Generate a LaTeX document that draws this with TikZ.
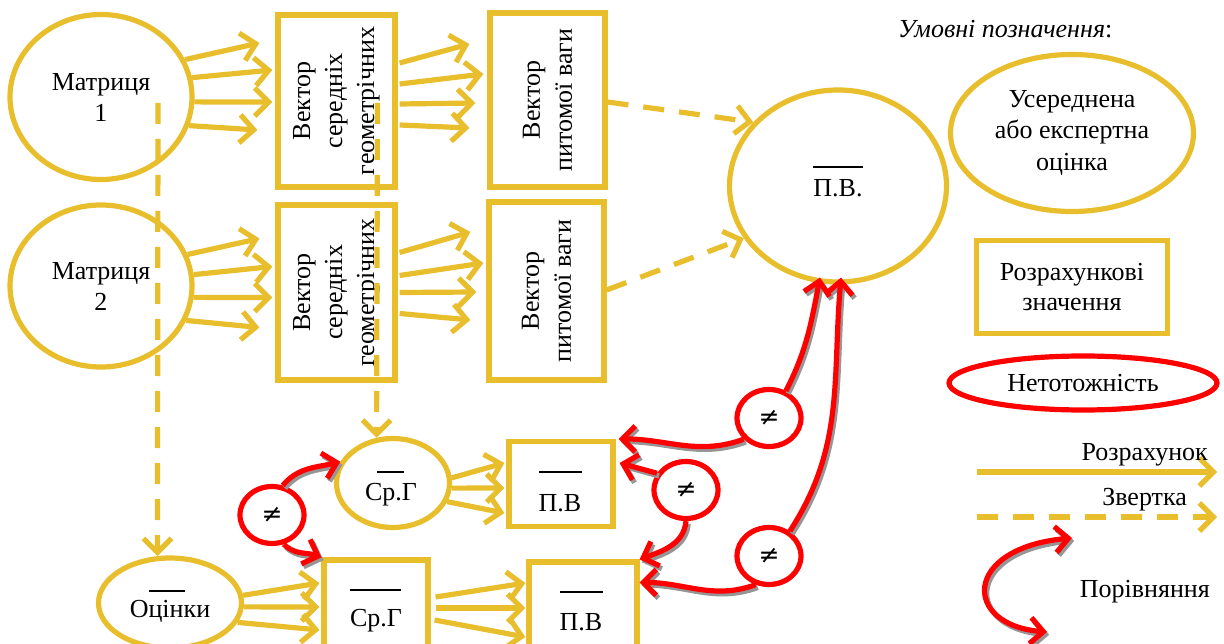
\documentclass[tikz,border=0pt]{standalone}
\usepackage{fontspec}
\setmainfont{Liberation Serif}
\newfontfamily\symfnt{DejaVu Sans}
\usetikzlibrary{shapes.geometric,arrows.meta,calc}
\definecolor{gold}{RGB}{232,190,44}
\definecolor{shadowgray}{RGB}{150,150,150}
\newcommand\mainsz{\fontsize{26}{31}\selectfont}
\begin{document}
\begin{tikzpicture}[x=1pt,y=-1pt,
  goldell/.style={ellipse, draw=gold, line width=5.2pt, inner sep=0pt, align=center, font=\mainsz},
  goldbox/.style={rectangle, draw=gold, line width=5.2pt, inner sep=0pt, align=center, font=\mainsz},
  rottext/.style={rotate=90, inner sep=0pt, align=center, font=\fontsize{26}{32}\selectfont},
  neq/.style={ellipse, draw=red, fill=white, line width=5.2pt, inner sep=0pt, minimum width=64pt, minimum height=57pt, font=\symfnt\fontsize{25}{25}\selectfont},
  lbl/.style={font=\mainsz, inner sep=0pt, anchor=base},
  calcarrow/.style={draw=gold, line width=5.2pt, -{Straight Barb[length=14pt,width=28pt]}},
  convarrow/.style={calcarrow, dash pattern=on 21pt off 15pt},
  cmptip/.style={-{Straight Barb[length=13pt,width=26pt]}},
  cmparrow/.style={draw=red, line width=5.2pt, cmptip},
  cmpshadow/.style={draw=shadowgray, line width=5.2pt, cmptip, transform canvas={shift={(2.2pt,-2.8pt)}}},
  bar/.style={line width=1.6pt, draw=black}]
\useasboundingbox (0,0) rectangle (1224,644);

% ---- top rows
\node[goldell, minimum width=182pt, minimum height=165pt] (m1) at (101,97) {Матриця\\1};
\node[goldell, minimum width=182pt, minimum height=162pt] (m2) at (101,286) {Матриця\\2};
\node[goldbox, minimum width=117pt, minimum height=172pt] (v1) at (336.5,101) {};
\node[rottext] (v1t) at (v1.center) {Вектор\\середніх\\геометрічних};
\node[goldbox, minimum width=117pt, minimum height=175pt] (v2) at (336.5,292.5) {};
\node[rottext] (v2t) at (v2.center) {Вектор\\середніх\\геометрічних};
\node[goldbox, minimum width=115pt, minimum height=174pt] (p1) at (547.5,100) {};
\node[rottext] (p1t) at (p1.center) {Вектор\\питомої ваги};
\node[goldbox, minimum width=115pt, minimum height=178pt] (p2) at (546.5,291) {};
\node[rottext] (p2t) at (p2.center) {Вектор\\питомої ваги};

\node[goldell, minimum width=217pt, minimum height=192pt] (PV) at (838,186) {};
\node[lbl] (PVt) at (838,197) {П.В.};
\draw[bar] (813,167) -- (863,167);

% ---- bottom part
\node[goldell, minimum width=113pt, minimum height=89pt] (sg1) at (393,483) {};
\node[lbl] (sg1t) at (391,500) {Ср.Г};
\draw[bar] (377,472) -- (404,472);
\node[goldbox, minimum width=104pt, minimum height=85pt] (pv1) at (561,484) {};
\node[lbl] (pv1t) at (560,511) {П.В};
\draw[bar] (539,472) -- (582,472);
\node[goldell, minimum width=143pt, minimum height=90pt] (oc) at (170,603) {};
\node[lbl] (oct) at (170,617) {Оцінки};
\draw[bar] (149,591) -- (185,591);
\node[goldbox, minimum width=104pt, minimum height=88pt] (sg2) at (376,604) {};
\node[lbl] (sg2t) at (376,626) {Ср.Г};
\draw[bar] (350,590) -- (401,590);
\node[goldbox, minimum width=108pt, minimum height=86pt] (pv2) at (583,605) {};
\node[lbl] (pv2t) at (581,630) {П.В};
\draw[bar] (560,592) -- (603,592);

% ---- calculation arrows, row 1
\draw[calcarrow] (m1.24) -- ([shift={(-16,-58)}]v1.west);
\draw[calcarrow] (m1.12) -- ([shift={(-3,-31)}]v1.west);
\draw[calcarrow] (m1.-3) -- ([shift={(-3,1)}]v1.west);
\draw[calcarrow] (m1.-18) -- ([shift={(-18,29)}]v1.west);
\draw[calcarrow] ([shift={(2,-38)}]v1.east) -- ([shift={(-18,-56)}]p1.west);
\draw[calcarrow] ([shift={(2,-17)}]v1.east) -- ([shift={(-4,-26)}]p1.west);
\draw[calcarrow] ([shift={(2,3)}]v1.east) -- ([shift={(-12,3)}]p1.west);
\draw[calcarrow] ([shift={(2,24)}]v1.east) -- ([shift={(-18,28)}]p1.west);
% row 2
\draw[calcarrow] (m2.20) -- ([shift={(-16,-54)}]v2.west);
\draw[calcarrow] (m2.7) -- ([shift={(-3,-26)}]v2.west);
\draw[calcarrow] (m2.-7) -- ([shift={(-3,5)}]v2.west);
\draw[calcarrow] (m2.-22) -- ([shift={(-16,35)}]v2.west);
\draw[calcarrow] ([shift={(2,-40)}]v2.east) -- ([shift={(-16,-59)}]p2.west);
\draw[calcarrow] ([shift={(2,-17)}]v2.east) -- ([shift={(-3,-28)}]p2.west);
\draw[calcarrow] ([shift={(2,0)}]v2.east) -- ([shift={(-10,1)}]p2.west);
\draw[calcarrow] ([shift={(2,21)}]v2.east) -- ([shift={(-16,29)}]p2.west);
% bottom
\draw[calcarrow] (sg1.5) -- ([shift={(-2,-21)}]pv1.west);
\draw[calcarrow] (sg1.-5) -- ([shift={(-2,4)}]pv1.west);
\draw[calcarrow] (sg1.-19) -- ([shift={(-2,29)}]pv1.west);
\draw[calcarrow] (oc.6) -- ([shift={(-2,-21)}]sg2.west);
\draw[calcarrow] (oc.-3) -- ([shift={(-2,3)}]sg2.west);
\draw[calcarrow] (oc.-16) -- ([shift={(-2,26)}]sg2.west);
\draw[calcarrow] ([shift={(5,-7)}]sg2.east) -- ([shift={(-1,-22)}]pv2.west);
\draw[calcarrow] ([shift={(5,4)}]sg2.east) -- ([shift={(-1,3)}]pv2.west);
\draw[calcarrow] ([shift={(4,16)}]sg2.east) -- ([shift={(-1,32)}]pv2.west);

% ---- convolution (dashed) arrows
\draw[convarrow] ([shift={(57,6)}]m1.center) -- (oc.105);
\draw[convarrow] ([shift={(41,2)}]v1.center) -- (sg1.110);
\draw[convarrow] ([shift={(0,2)}]p1.east) -- (PV.143);
\draw[convarrow] ([shift={(0,-1)}]p2.east) -- (PV.209);

% ---- comparison nodes
\node[neq] (n1) at (272,515) {≠};
\node[neq] (n2) at (769,418) {≠};
\node[neq] (n3) at (686,490) {≠};
\node[neq] (n4) at (769,556) {≠};

\foreach \st in {cmpshadow,cmparrow}{
\draw[\st] (n2.58) to[out=63,in=-101] ([shift={(-18,-7)}]PV.south);
\draw[\st] (n4.50) to[out=57,in=-95] ([shift={(3,-7)}]PV.south);
\draw[\st] (n2.220) to[out=200,in=0] ([xshift=3pt]pv1.north east);
\draw[\st] (n3.150) to[out=165,in=-15] ([shift={(4,-21)}]pv1.east);
\draw[\st] (n3.south) to[out=-95,in=20] (pv2.north east);
\draw[\st] (n4.245) to[out=200,in=0] ([shift={(0,23)}]pv2.north east);
\draw[\st] (n1.70) to[out=50,in=194] (sg1.158);
\draw[\st] (n1.-68) to[out=-45,in=160] (sg2.north west);
}

% ---- legend
\node[font=\fontsize{26}{30}\selectfont\itshape, inner sep=0pt, anchor=base west] (title) at (898,38) {Умовні позначення\textup{:}};
\node[goldell, minimum width=243pt, minimum height=157pt, font=\fontsize{26}{31.5}\selectfont] (L1) at (1072,133) {Усереднена\\або експертна\\оцінка};
\node[goldbox, minimum width=191pt, minimum height=93pt, font=\fontsize{26}{30}\selectfont] (L2) at (1072,287) {Розрахункові\\значення};
\node[ellipse, draw=red, line width=5.2pt, inner sep=0pt, minimum width=268pt, minimum height=54pt, font=\mainsz] (L3) at (1083,383) {Нетотожність};

\coordinate (ra) at (977,472);
\coordinate (rb) at (1217,472);
\draw[calcarrow] (ra) -- (rb);
\node[lbl, anchor=base east] (rt) at (1208,460) {Розрахунок};
\coordinate (za) at (977,517);
\coordinate (zb) at (1217,517);
\draw[convarrow] (za) -- (zb);
\node[lbl, anchor=base east] (zt) at (1187,505) {Звертка};
\coordinate (pa) at (1072,538);
\coordinate (pb) at (1047,632);
\foreach \st in {cmpshadow,cmparrow}{
\draw[\st, {Straight Barb[length=13pt,width=26pt]}-{Straight Barb[length=13pt,width=26pt]}] (pa) .. controls (962,548) and (962,625) .. (pb);
}
\node[lbl, anchor=base east] (pt) at (1210,597) {Порівняння};
\end{tikzpicture}
\end{document}
